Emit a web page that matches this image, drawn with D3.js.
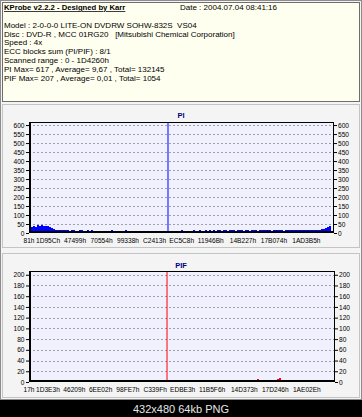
<!DOCTYPE html>
<html>
<head>
<meta charset="utf-8">
<script src="https://cdn.jsdelivr.net/npm/d3@7/dist/d3.min.js"></script>
<style>
  body { margin: 0; background: #000; }
  svg { display: block; font-family: "Liberation Sans", Arial, sans-serif; }
</style>
</head>
<body>
<div id="chart-area"></div>
<script>
// header texts
const headerTitle = 'KProbe v2.2.2 - Designed by Karr';
const headerDate = 'Date : 2004.07.04 08:41:16';
const headerLines = [
  'Model : 2-0-0-0 LITE-ON DVDRW SOHW-832S  VS04',
  'Disc : DVD-R , MCC 01RG20   [Mitsubishi Chemical Corporation]',
  'Speed : 4x',
  'ECC blocks sum (PI/PIF) : 8/1',
  'Scanned range : 0 - 1D4260h',
  'PI Max= 617 , Average= 9,67 , Total= 132145',
  'PIF Max= 207 , Average= 0,01 , Total= 1054'
];
const caption = '432x480 64kb PNG';

// x axis (LBA, hex)
const scanEnd = 0x1D4260;
const piTickLabels = ['81h', '1D95Ch', '47499h', '70554h', '99338h', 'C2413h',
  'EC5C8h', '11946Bh', '14B227h', '17B074h', '1AD3B5h'];
const pifTickLabels = ['17h', '1D3E3h', '46209h', '6EE02h', '98FE7h', 'C339Fh',
  'EDBE3h', '11B5F6h', '14D373h', '17D246h', '1AE02Eh'];

// y ticks
const piYTicks = [0, 50, 100, 150, 200, 250, 300, 350, 400, 450, 500, 550, 600];
const pifYTicks = [0, 20, 40, 60, 80, 100, 120, 140, 160, 180, 200];

// PI per sample (151 samples across the scan)
const piValues = [
  32, 36, 40, 35, 42, 38, 45, 40, 37, 41, 34,
  26, 22, 19, 18, 17,
  15, 16, 14, 15, 13, 14, 16, 13, 12, 14, 15, 13, 12, 14, 13, 15, 12, 11, 13, 12,
  12, 11, 13, 10, 12, 14, 11, 12, 10, 13, 11, 12, 14, 12, 10, 11, 13, 12, 11, 10,
  12, 13, 11, 12, 10, 11, 12, 13, 11, 10, 12, 11, 12,
  11, 12, 10, 13, 12, 11, 12, 14, 12, 11, 13, 12, 12, 14, 13, 12, 15, 13, 12, 14,
  13, 15, 12, 14, 13, 16, 14, 13, 15, 14, 13, 16, 15, 14, 13, 15, 14, 16, 13, 15, 14, 13,
  15, 14, 16, 13, 15, 17, 14, 15, 16, 14, 13, 15, 17, 16, 14, 15, 13, 16, 15, 14,
  17, 15, 16, 14, 15, 17, 16, 15, 14, 16, 17, 15, 16, 18,
  18, 20, 22, 26, 32, 38
];
const piPeak = { lba: 0xD7E00, value: 617 };

// PIF: sparse non-zero samples
const pifSamples = [18, 25, 88, 114, 117, 119, 124, 125, 144, 147, 149];
const pifValues = [2, 1, 1, 3, 2, 1, 4, 5, 1, 2, 1];
const pifPeak = { lba: 0xD6600, value: 207 };

const W = 362, H = 417;
const svg = d3.select('#chart-area').append('svg')
  .attr('width', W)
  .attr('height', H);

svg.append('rect').attr('width', W).attr('height', 400).attr('fill', '#f4f4f4');
svg.append('rect').attr('y', 400).attr('width', W).attr('height', 17).attr('fill', '#000');
svg.append('text')
  .attr('x', W / 2).attr('y', 412.5)
  .attr('text-anchor', 'middle')
  .attr('font-size', 11)
  .attr('fill', '#e6e6e6')
  .text(caption);
svg.append('rect')
  .attr('x', 0.5).attr('y', 0.5).attr('width', W - 1).attr('height', 399)
  .attr('fill', 'none').attr('stroke', '#8c8c8c');

// header box
svg.append('rect')
  .attr('x', 2.5).attr('y', 2.5).attr('width', 357).attr('height', 99)
  .attr('fill', '#fffff0').attr('stroke', '#6e6e6e');
svg.append('text')
  .attr('x', 4).attr('y', 10)
  .attr('font-size', 7.7).attr('font-weight', 'bold')
  .attr('text-decoration', 'underline')
  .text(headerTitle);
svg.append('text')
  .attr('x', 180).attr('y', 10)
  .attr('font-size', 8)
  .text(headerDate);
svg.selectAll('.hline')
  .data(headerLines)
  .enter().append('text')
    .attr('class', 'hline')
    .attr('x', 4)
    .attr('y', (d, i) => 27.8 + i * 8.8)
    .attr('font-size', 8)
    .style('white-space', 'pre')
    .text(d => d);

const sampleLba = scanEnd / piValues.length;

function drawChart(cfg) {
  svg.append('rect')
    .attr('x', 2.5).attr('y', cfg.panelTop + 0.5)
    .attr('width', 357).attr('height', cfg.panelBottom - cfg.panelTop)
    .attr('fill', '#f4f4f4').attr('stroke', '#c4c4c4');

  svg.append('text')
    .attr('x', 181).attr('y', cfg.titleY)
    .attr('text-anchor', 'middle')
    .attr('font-size', 7.5).attr('font-weight', 'bold')
    .attr('fill', '#000080')
    .text(cfg.title);

  const x = d3.scaleLinear().domain([0, scanEnd]).range([28.5, 331]);
  const y = d3.scaleLinear().domain([0, cfg.yMax]).range([cfg.bottom, cfg.top]);

  const g = svg.append('g');

  g.append('rect')
    .attr('x', cfg.left).attr('y', cfg.top)
    .attr('width', cfg.right - cfg.left).attr('height', cfg.bottom - cfg.top)
    .attr('fill', '#f0f0ff');

  g.selectAll('.grid')
    .data(cfg.yTicks.slice(1))
    .enter().append('line')
      .attr('x1', cfg.left).attr('x2', cfg.right)
      .attr('y1', d => Math.round(y(d)) + 0.5)
      .attr('y2', d => Math.round(y(d)) + 0.5)
      .attr('stroke', '#a0a0a0')
      .attr('stroke-dasharray', '2,2');

  const bars = g.append('g').attr('shape-rendering', 'crispEdges');
  cfg.drawBars(bars, x, y);

  // peak
  g.append('rect')
    .attr('x', x(cfg.peak.lba) - 0.5)
    .attr('y', y(cfg.peak.value))
    .attr('width', 1)
    .attr('height', cfg.bottom - y(cfg.peak.value))
    .attr('fill', cfg.color);

  // frame
  g.append('rect')
    .attr('x', cfg.left + 0.5).attr('y', cfg.top + 0.5)
    .attr('width', cfg.right - cfg.left - 1).attr('height', cfg.bottom - cfg.top - 1)
    .attr('fill', 'none').attr('stroke', '#000');
  g.append('line')
    .attr('x1', cfg.left + 1.5).attr('x2', cfg.left + 1.5)
    .attr('y1', cfg.top).attr('y2', cfg.bottom)
    .attr('stroke', '#000');
  g.append('line')
    .attr('x1', cfg.left).attr('x2', cfg.right)
    .attr('y1', cfg.bottom - 1.5).attr('y2', cfg.bottom - 1.5)
    .attr('stroke', '#000');

  const styleAxis = sel => {
    sel.select('.domain').remove();
    sel.selectAll('text').attr('font-size', 6.6).attr('fill', '#000');
    sel.selectAll('line').attr('stroke', '#000');
  };

  svg.append('g')
    .attr('transform', `translate(${cfg.left},0)`)
    .call(d3.axisLeft(y).tickValues(cfg.yTicks).tickSize(3).tickPadding(1.5))
    .call(styleAxis)
    .attr('font-family', null);

  svg.append('g')
    .attr('transform', `translate(${cfg.right},0)`)
    .call(d3.axisRight(y).tickValues(cfg.yTicks).tickSize(3).tickPadding(1))
    .call(styleAxis)
    .attr('font-family', null);

  svg.append('g')
    .attr('transform', `translate(0,${cfg.bottom})`)
    .call(d3.axisBottom(x)
      .tickValues(cfg.tickLabels.map(t => parseInt(t, 16)))
      .tickFormat((d, i) => cfg.tickLabels[i])
      .tickSize(0).tickPadding(5.5))
    .call(styleAxis)
    .attr('font-family', null);
}

drawChart({
  title: 'PI', titleY: 118,
  panelTop: 104, panelBottom: 247,
  left: 29, right: 334, top: 122, bottom: 233,
  yMax: 617, yTicks: piYTicks, tickLabels: piTickLabels,
  color: '#0000ff', peak: piPeak,
  drawBars: (sel, x, y) => {
    sel.selectAll('rect')
      .data(piValues)
      .enter().append('rect')
        .attr('x', (d, i) => x(i * sampleLba))
        .attr('y', d => y(d))
        .attr('width', x(sampleLba) - x(0) + 0.2)
        .attr('height', d => 233 - y(d))
        .attr('fill', '#0000ff');
  }
});

drawChart({
  title: 'PIF', titleY: 267.5,
  panelTop: 253, panelBottom: 397,
  left: 29, right: 335, top: 271, bottom: 382,
  yMax: 207, yTicks: pifYTicks, tickLabels: pifTickLabels,
  color: '#ff0000', peak: pifPeak,
  drawBars: (sel, x, y) => {
    sel.selectAll('rect')
      .data(pifValues)
      .enter().append('rect')
        .attr('x', (d, i) => x(pifSamples[i] * sampleLba))
        .attr('y', d => y(d) - 1)
        .attr('width', 2)
        .attr('height', d => 382 - y(d))
        .attr('fill', '#ff0000');
  }
});
</script>
</body>
</html>
